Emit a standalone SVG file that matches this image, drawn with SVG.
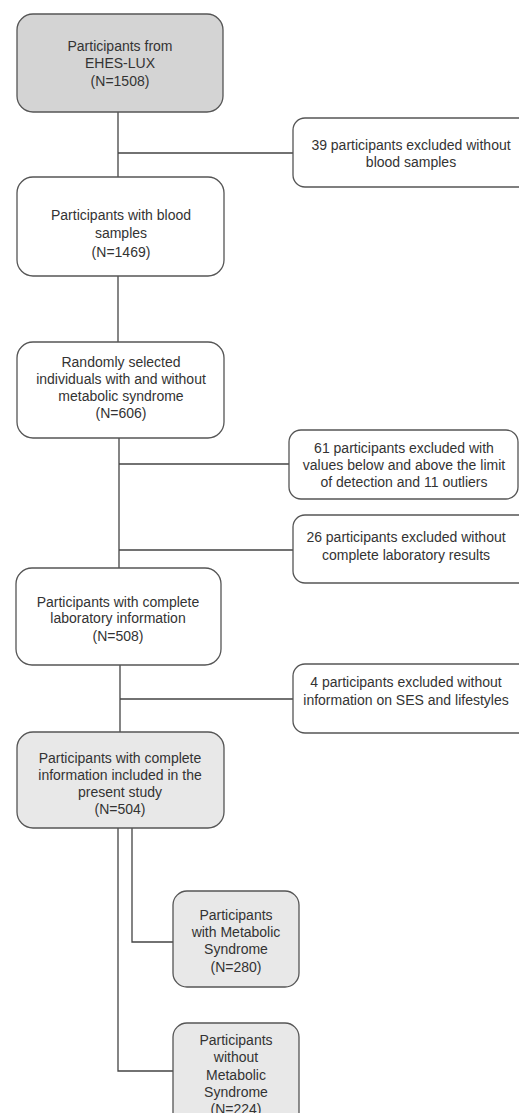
<svg xmlns="http://www.w3.org/2000/svg" width="519" height="1113" viewBox="0 0 519 1113">
<style>
.box{stroke:#555;stroke-width:1.3;fill:#fff}
.dark{fill:#d4d4d4}
.light{fill:#e8e8e8}
.ln{stroke:#444;stroke-width:1.3;fill:none}
text{font-family:"Liberation Sans",Arial,sans-serif;font-size:14px;fill:#333;text-anchor:middle}
</style>
<rect width="519" height="1113" fill="#fff"/>
<g id="connectors">
<path class="ln" d="M118 112V177M118 153H293"/>
<path class="ln" d="M118 276V342"/>
<path class="ln" d="M119 438V568M119 464H289M119 550H293"/>
<path class="ln" d="M120 665V732M120 699H293"/>
<path class="ln" d="M132 828V942H173M118 828V1071H173"/>
</g>
<g id="n1">
<rect class="box dark" x="17" y="14" width="206" height="98" rx="16"/>
<text x="120" y="51">Participants from</text>
<text x="120" y="68">EHES-LUX</text>
<text x="120" y="86">(N=1508)</text>
</g>
<g id="e1">
<rect class="box" x="293" y="118" width="240" height="69" rx="12"/>
<text x="411" y="150">39 participants excluded without</text>
<text x="411" y="167">blood samples</text>
</g>
<g id="n2">
<rect class="box" x="17" y="177" width="207" height="99" rx="16"/>
<text x="121" y="220">Participants with blood</text>
<text x="121" y="238">samples</text>
<text x="121" y="257">(N=1469)</text>
</g>
<g id="n3">
<rect class="box" x="17" y="342" width="207" height="96" rx="16"/>
<text x="121" y="367">Randomly selected</text>
<text x="121" y="384">individuals with and without</text>
<text x="121" y="401">metabolic syndrome</text>
<text x="121" y="418">(N=606)</text>
</g>
<g id="e2">
<rect class="box" x="289" y="430" width="229" height="69" rx="12"/>
<text x="404" y="453">61 participants excluded with</text>
<text x="404" y="470">values below and above the limit</text>
<text x="404" y="487">of detection and 11 outliers</text>
</g>
<g id="e3">
<rect class="box" x="293" y="515" width="240" height="68" rx="12"/>
<text x="406" y="542">26 participants excluded without</text>
<text x="406" y="560">complete laboratory results</text>
</g>
<g id="n4">
<rect class="box" x="16" y="568" width="205" height="97" rx="16"/>
<text x="118" y="607">Participants with complete</text>
<text x="118" y="623">laboratory information</text>
<text x="118" y="641">(N=508)</text>
</g>
<g id="e4">
<rect class="box" x="293" y="664" width="240" height="69" rx="12"/>
<text x="406" y="687">4 participants excluded without</text>
<text x="406" y="705">information on SES and lifestyles</text>
</g>
<g id="n5">
<rect class="box light" x="17" y="732" width="207" height="96" rx="16"/>
<text x="120" y="763">Participants with complete</text>
<text x="120" y="780">information included in the</text>
<text x="120" y="797">present study</text>
<text x="120" y="814">(N=504)</text>
</g>
<g id="n6">
<rect class="box light" x="173" y="891" width="126" height="96" rx="14"/>
<text x="236" y="920">Participants</text>
<text x="236" y="937">with Metabolic</text>
<text x="236" y="954">Syndrome</text>
<text x="236" y="972">(N=280)</text>
</g>
<g id="n7">
<rect class="box light" x="173" y="1023" width="126" height="110" rx="14"/>
<text x="236" y="1045">Participants</text>
<text x="236" y="1062">without</text>
<text x="236" y="1080">Metabolic</text>
<text x="236" y="1097">Syndrome</text>
<text x="236" y="1114">(N=224)</text>
</g>
</svg>
